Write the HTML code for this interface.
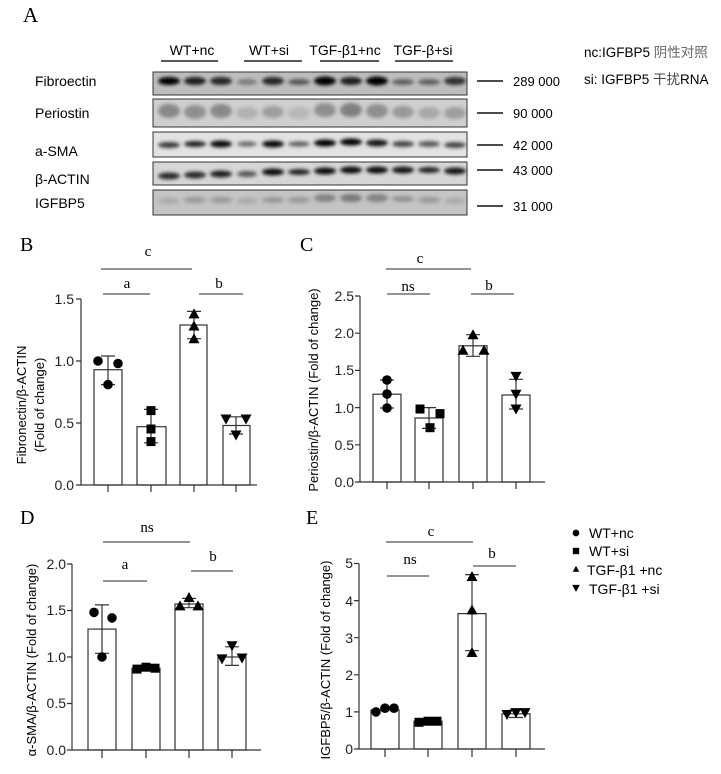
<!DOCTYPE html><html><head><meta charset="utf-8"><style>body{margin:0;background:#fff;overflow:hidden}svg{display:block}
.s{font-family:"Liberation Serif",serif}.t{font-family:"Liberation Sans","Noto Sans CJK SC",sans-serif}</style></head><body>
<svg width="721" height="774" viewBox="0 0 721 774" xmlns="http://www.w3.org/2000/svg">
<defs><filter id="bl" x="-20%" y="-80%" width="140%" height="260%"><feGaussianBlur stdDeviation="1.8"/></filter>
<symbol id="ci" overflow="visible"><circle r="4.8" fill="#000"/></symbol>
<symbol id="sq" overflow="visible"><rect x="-4.5" y="-4.5" width="9" height="9" fill="#000"/></symbol>
<symbol id="tu" overflow="visible"><path d="M0,-5.5 L5.5,4.5 L-5.5,4.5Z" fill="#000"/></symbol>
<symbol id="td" overflow="visible"><path d="M0,5.5 L5.5,-4.5 L-5.5,-4.5Z" fill="#000"/></symbol>
</defs>
<text x="23" y="22" class="s" font-size="21">A</text>
<g class="t" font-size="14" text-anchor="middle">
<text x="192" y="55">WT+nc</text><text x="269" y="55">WT+si</text><text x="345" y="55">TGF-β1+nc</text><text x="423" y="55">TGF-β+si</text></g>
<g stroke="#222" stroke-width="1.5"><line x1="161" y1="61" x2="218" y2="61"/><line x1="244" y1="61" x2="302" y2="61"/><line x1="320" y1="61" x2="379" y2="61"/><line x1="395" y1="61" x2="453" y2="61"/></g>
<g class="t" font-size="13.5"><text x="584" y="57">nc:IGFBP5 <tspan fill="#666">阴性对照</tspan></text><text x="584" y="84">si: IGFBP5 <tspan fill="#444">干扰</tspan>RNA</text></g>
<g class="t" font-size="14"><text x="35" y="86">Fibroectin</text><text x="35" y="118">Periostin</text><text x="35" y="156">a-SMA</text><text x="35" y="184">β-ACTIN</text><text x="35" y="208">IGFBP5</text></g>
<g class="t" font-size="13"><text x="513" y="86">289 000</text><text x="513" y="118">90 000</text><text x="513" y="150">42 000</text><text x="513" y="175">43 000</text><text x="513" y="211">31 000</text></g>
<g stroke="#111" stroke-width="1.6"><line x1="477" y1="81" x2="503" y2="81"/><line x1="477" y1="113" x2="503" y2="113"/><line x1="477" y1="145" x2="503" y2="145"/><line x1="477" y1="170" x2="503" y2="170"/><line x1="477" y1="206" x2="503" y2="206"/></g>
<rect x="153" y="72" width="314" height="23" fill="#bdbdbd" stroke="#333"/>
<rect x="153" y="99" width="314" height="28" fill="#cfcfcf" stroke="#333"/>
<rect x="153" y="132" width="314" height="25" fill="#e2e2e2" stroke="#333"/>
<rect x="153" y="162" width="314" height="23" fill="#d6d6d6" stroke="#333"/>
<rect x="153" y="190" width="314" height="25" fill="#c4c4c4" stroke="#333"/>
<g filter="url(#bl)">
<g fill="#000"><ellipse cx="169" cy="81" rx="11" ry="4" opacity="1"/><ellipse cx="195" cy="81" rx="11" ry="4" opacity=".85"/><ellipse cx="221" cy="81" rx="11" ry="4" opacity=".8"/><ellipse cx="247" cy="82" rx="10" ry="3" opacity=".35"/><ellipse cx="273" cy="81" rx="11" ry="4" opacity=".8"/><ellipse cx="299" cy="82" rx="11" ry="3" opacity=".55"/><ellipse cx="325" cy="81" rx="11" ry="4.5" opacity="1"/><ellipse cx="351" cy="81" rx="11" ry="4" opacity=".85"/><ellipse cx="377" cy="81" rx="11" ry="4.5" opacity="1"/><ellipse cx="403" cy="82" rx="11" ry="3" opacity=".5"/><ellipse cx="429" cy="82" rx="11" ry="3" opacity=".5"/><ellipse cx="455" cy="81" rx="11" ry="4" opacity=".75"/></g>
<g fill="#333"><ellipse cx="169" cy="111" rx="11" ry="7" opacity=".45"/><ellipse cx="195" cy="112" rx="11" ry="7" opacity=".4"/><ellipse cx="221" cy="111" rx="11" ry="7" opacity=".45"/><ellipse cx="247" cy="113" rx="11" ry="6" opacity=".2"/><ellipse cx="273" cy="112" rx="11" ry="6" opacity=".3"/><ellipse cx="299" cy="113" rx="11" ry="6" opacity=".15"/><ellipse cx="325" cy="110" rx="11" ry="7" opacity=".4"/><ellipse cx="351" cy="110" rx="11" ry="7" opacity=".5"/><ellipse cx="377" cy="111" rx="11" ry="7" opacity=".4"/><ellipse cx="403" cy="112" rx="11" ry="6" opacity=".35"/><ellipse cx="429" cy="113" rx="11" ry="6" opacity=".25"/><ellipse cx="455" cy="113" rx="11" ry="6" opacity=".3"/></g>
<g fill="#000"><ellipse cx="169" cy="145" rx="11" ry="3" opacity=".75"/><ellipse cx="195" cy="144" rx="11" ry="3" opacity=".85"/><ellipse cx="221" cy="144" rx="11" ry="3.5" opacity=".95"/><ellipse cx="247" cy="144" rx="10" ry="2.5" opacity=".55"/><ellipse cx="273" cy="144" rx="11" ry="3.5" opacity=".95"/><ellipse cx="299" cy="144" rx="11" ry="2.5" opacity=".6"/><ellipse cx="325" cy="143" rx="11" ry="3.5" opacity="1"/><ellipse cx="351" cy="142" rx="11" ry="3.5" opacity="1"/><ellipse cx="377" cy="143" rx="11" ry="3.5" opacity=".9"/><ellipse cx="403" cy="144" rx="11" ry="3" opacity=".7"/><ellipse cx="429" cy="144" rx="11" ry="3" opacity=".6"/><ellipse cx="455" cy="145" rx="11" ry="3" opacity=".7"/></g>
<g fill="#000"><ellipse cx="169" cy="176" rx="11" ry="3.5" opacity=".8"/><ellipse cx="195" cy="175" rx="11" ry="3.5" opacity=".8"/><ellipse cx="221" cy="174" rx="11" ry="3.5" opacity=".85"/><ellipse cx="247" cy="174" rx="10" ry="3" opacity=".6"/><ellipse cx="273" cy="172" rx="11" ry="3.5" opacity=".95"/><ellipse cx="299" cy="172" rx="11" ry="3" opacity=".85"/><ellipse cx="325" cy="171" rx="11" ry="3.5" opacity=".95"/><ellipse cx="351" cy="170" rx="11" ry="3.5" opacity=".95"/><ellipse cx="377" cy="170" rx="11" ry="3.5" opacity=".95"/><ellipse cx="403" cy="170" rx="11" ry="3.5" opacity=".9"/><ellipse cx="429" cy="170" rx="11" ry="3" opacity=".85"/><ellipse cx="455" cy="171" rx="11" ry="3.5" opacity=".9"/></g>
<g fill="#333"><ellipse cx="169" cy="201" rx="10" ry="3" opacity=".2"/><ellipse cx="195" cy="200" rx="11" ry="3" opacity=".3"/><ellipse cx="221" cy="200" rx="11" ry="3" opacity=".3"/><ellipse cx="247" cy="201" rx="10" ry="3" opacity=".2"/><ellipse cx="273" cy="200" rx="11" ry="3" opacity=".3"/><ellipse cx="299" cy="200" rx="11" ry="3" opacity=".3"/><ellipse cx="325" cy="198" rx="11" ry="4" opacity=".45"/><ellipse cx="351" cy="198" rx="11" ry="4" opacity=".5"/><ellipse cx="377" cy="198" rx="11" ry="4" opacity=".45"/><ellipse cx="403" cy="199" rx="11" ry="3" opacity=".35"/><ellipse cx="429" cy="200" rx="11" ry="3" opacity=".3"/><ellipse cx="455" cy="201" rx="10" ry="3" opacity=".2"/></g>
</g>
<g class="s" font-size="20"><text x="20" y="251">B</text><text x="300" y="251">C</text><text x="20" y="524">D</text><text x="306" y="524">E</text></g>
<g class="s" font-size="15" text-anchor="middle"><text x="148" y="256">c</text><text x="127" y="288">a</text><text x="219" y="288">b</text>
<text x="420" y="263">c</text><text x="408" y="291">ns</text><text x="489" y="290">b</text>
<text x="147" y="532">ns</text><text x="125" y="569">a</text><text x="213" y="561">b</text>
<text x="431" y="536">c</text><text x="410" y="564">ns</text><text x="492" y="558">b</text></g>
<g stroke="#555" stroke-width="1.3"><line x1="101" y1="269" x2="192" y2="269"/><line x1="103" y1="294" x2="150" y2="294"/><line x1="199" y1="294" x2="243" y2="294"/>
<line x1="386" y1="269" x2="471" y2="269"/><line x1="387" y1="294" x2="430" y2="294"/><line x1="471" y1="294" x2="514" y2="294"/>
<line x1="103" y1="542" x2="190" y2="542"/><line x1="103" y1="581" x2="147" y2="581"/><line x1="191" y1="571" x2="233" y2="571"/>
<line x1="386" y1="542" x2="473" y2="542"/><line x1="387" y1="576" x2="429" y2="576"/><line x1="473" y1="566" x2="516" y2="566"/></g>
<g class="t" font-size="13" text-anchor="middle">
<text transform="translate(26,405) rotate(-90)">Fibronectin/β-ACTIN</text><text transform="translate(44,405) rotate(-90)">(Fold of change)</text>
<text transform="translate(318,390) rotate(-90)">Periostin/β-ACTIN (Fold of change)</text>
<text transform="translate(36,660) rotate(-90)">α-SMA/β-ACTIN (Fold of change)</text>
<text transform="translate(330,660) rotate(-90)">IGFBP5/β-ACTIN (Fold of change)</text></g>
<g class="t" font-size="14" text-anchor="end" fill="#222">
<text x="74" y="490">0.0</text><text x="74" y="428">0.5</text><text x="74" y="366">1.0</text><text x="74" y="304">1.5</text>
<text x="354" y="487">0.0</text><text x="354" y="450">0.5</text><text x="354" y="413">1.0</text><text x="354" y="375">1.5</text><text x="354" y="338">2.0</text><text x="354" y="301">2.5</text>
<text x="66" y="755">0.0</text><text x="66" y="708">0.5</text><text x="66" y="662">1.0</text><text x="66" y="615">1.5</text><text x="66" y="569">2.0</text>
<text x="353" y="754">0</text><text x="353" y="717">1</text><text x="353" y="680">2</text><text x="353" y="643">3</text><text x="353" y="606">4</text><text x="353" y="568">5</text></g>
<g stroke="#333" stroke-width="1.2" fill="none">
<path d="M81,299V485H257M76,299H81M76,361H81M76,423H81M76,485H81M108,485v7M151,485v7M194,485v7M236,485v7"/>
<path d="M360,296V482H545M355,296h5M355,333.2h5M355,370.4h5M355,407.6h5M355,444.8h5M355,482h5M387,482v7M429,482v7M473,482v7M516,482v7"/>
<path d="M72,564V750H261M67,564h5M67,610.5h5M67,657h5M67,703.5h5M67,750h5M102,750v8M146,750v8M189,750v8M232,750v8"/>
<path d="M359,563.5V749H545M354,563.5h5M354,600.6h5M354,637.7h5M354,674.8h5M354,711.9h5M354,749h5M385,749v8M428,749v8M472,749v8M516,749v8"/>
<rect x="94" y="369.7" width="28" height="115.3"/><rect x="137" y="426.7" width="29" height="58.3"/><rect x="180" y="325" width="27" height="160"/><rect x="223" y="425.5" width="27" height="59.5"/>
<rect x="373" y="394.2" width="28" height="87.8"/><rect x="415" y="418" width="28" height="64"/><rect x="459" y="345.8" width="28" height="136.2"/><rect x="502" y="395" width="28" height="87"/>
<rect x="88" y="629.1" width="28" height="120.9"/><rect x="132" y="668.2" width="28" height="81.8"/><rect x="175" y="604" width="28" height="146"/><rect x="218" y="657" width="28" height="93"/>
<rect x="371" y="710" width="28" height="39"/><rect x="414" y="721.2" width="28" height="27.8"/><rect x="458" y="613.6" width="28" height="135.4"/><rect x="502" y="713.8" width="28" height="35.2"/>
<path d="M108,384.6V356M101,384.6h14M101,356h14 M151,442.8V409.4M144,442.8h14M144,409.4h14 M194,338.7V311.4M187,338.7h14M187,311.4h14 M236,434V416.8M229,434h14M229,416.8h14"/>
<path d="M387,408V380M380,408h14M380,380h14 M429,428.4V407.6M422,428.4h14M422,407.6h14 M473,356.3V334.7M466,356.3h14M466,334.7h14 M516,409V379.3M509,409h14M509,379.3h14"/>
<path d="M102,653.3V604.9M95,653.3h14M95,604.9h14 M189,607.7V598.4M182,607.7h14M182,598.4h14 M232,665.4V646.8M225,665.4h14M225,646.8h14"/>
<path d="M472,650.7V574.6M465,650.7h14M465,574.6h14 M516,717.5V710M509,717.5h14M509,710h14"/>
</g>
<use href="#ci" x="98" y="361"/><use href="#ci" x="118" y="363.5"/><use href="#ci" x="108" y="384.6"/>
<use href="#sq" x="151" y="410.6"/><use href="#sq" x="151" y="429"/><use href="#sq" x="151" y="441.6"/>
<use href="#tu" x="194" y="313.9"/><use href="#tu" x="194" y="326"/><use href="#tu" x="194" y="338.7"/>
<use href="#td" x="226" y="419"/><use href="#td" x="246" y="419"/><use href="#td" x="236" y="435"/>
<use href="#ci" x="387" y="380"/><use href="#ci" x="387" y="394"/><use href="#ci" x="387" y="408"/>
<use href="#sq" x="420" y="409"/><use href="#sq" x="440" y="413.6"/><use href="#sq" x="430" y="427.7"/>
<use href="#tu" x="473" y="334.7"/><use href="#tu" x="463" y="350.3"/><use href="#tu" x="484" y="350.3"/>
<use href="#td" x="516" y="376.4"/><use href="#td" x="516" y="394.2"/><use href="#td" x="516" y="409"/>
<use href="#ci" x="94" y="612.4"/><use href="#ci" x="112" y="617.9"/><use href="#ci" x="102" y="657"/>
<use href="#sq" x="137" y="669.1"/><use href="#sq" x="146" y="667.2"/><use href="#sq" x="155" y="668.2"/>
<use href="#tu" x="189" y="597.5"/><use href="#tu" x="180" y="605.9"/><use href="#tu" x="198" y="605.9"/>
<use href="#td" x="232" y="645.8"/><use href="#td" x="222" y="658.9"/><use href="#td" x="242" y="658"/>
<use href="#ci" x="376" y="711.9"/><use href="#ci" x="385" y="708.2"/><use href="#ci" x="394" y="708.2"/>
<use href="#sq" x="419" y="722.3"/><use href="#sq" x="428" y="721.2"/><use href="#sq" x="437" y="721.2"/>
<use href="#tu" x="472" y="576.5"/><use href="#tu" x="472" y="609.9"/><use href="#tu" x="472" y="652.5"/>
<use href="#td" x="507" y="714.5"/><use href="#td" x="516" y="712.6"/><use href="#td" x="525" y="712.6"/>
<g transform="translate(576,533) scale(.7)"><use href="#ci"/></g>
<g transform="translate(576,551) scale(.7)"><use href="#sq"/></g>
<g transform="translate(576,569) scale(.6)"><use href="#tu"/></g>
<g transform="translate(576,588) scale(.7)"><use href="#td"/></g>
<g class="t" font-size="14"><text x="589" y="538">WT+nc</text><text x="589" y="556">WT+si</text><text x="587" y="575">TGF-β1 +nc</text><text x="589" y="594">TGF-β1 +si</text></g>
</svg></body></html>
